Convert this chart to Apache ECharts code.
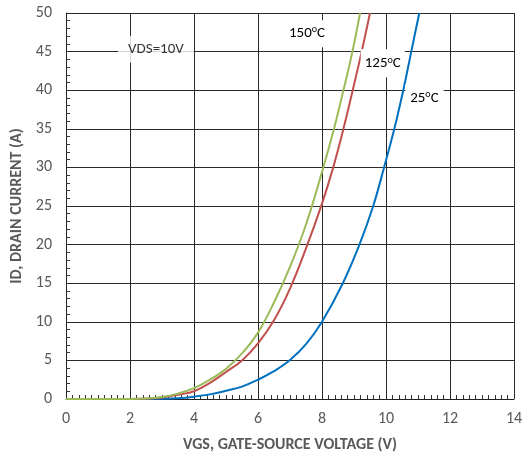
<!DOCTYPE html>
<html>
<head>
<meta charset="utf-8">
<script src="https://cdn.jsdelivr.net/npm/echarts@6/dist/echarts.min.js"></script>
<style>html,body{margin:0;padding:0;background:#fff}#c{width:528px;height:458px}</style>
</head>
<body>
<div id="c"></div>
<script>
// VGS (V) and ID (A)
const x150 = [0, 2, 2.5, 3, 3.5, 4, 4.5, 5, 5.5, 6, 6.5, 7, 7.5, 8, 8.375, 8.67, 8.95, 9.19];
const y150 = [0, 0, 0.05, 0.25, 0.7, 1.4, 2.5, 3.9, 5.9, 8.6, 12.5, 17.1, 22.6, 29.4, 35, 40, 45, 50];

const x125 = [0, 2, 2.6, 3, 3.5, 4, 4.5, 5, 5.5, 6, 6.5, 7, 7.5, 8, 8.35, 8.67, 8.96, 9.24, 9.5];
const y125 = [0, 0, 0.05, 0.2, 0.55, 1.0, 2.1, 3.5, 5.0, 7.2, 10.2, 14.3, 19.5, 25.3, 30, 35, 40, 45, 50];

const x25 = [0, 2.5, 3, 3.5, 4, 4.5, 5, 5.5, 6, 6.5, 7, 7.5, 8, 8.65, 9.17, 9.6, 9.94, 10.26, 10.54, 10.79, 11.04];
const y25 = [0, 0, 0.02, 0.1, 0.3, 0.6, 1.07, 1.6, 2.5, 3.6, 5.05, 7.1, 10, 15, 20, 25, 30, 35, 40, 45, 50];

const seriesNames = ['150', '125', '25'];
const seriesColors = ['#9BBB59', '#C0504D', '#0070C0'];
// label anchors in data coordinates
const labelTexts = ['150{s|o}C', '125{s|o}C', '25{s|o}C'];
const labelX = [7.53, 9.9, 11.2];
const labelY = [47.3, 43.5, 38.9];
const noteText = 'VDS=10V';
const noteX = 2.81, noteY = 45.3;

const xName = 'VGS, GATE-SOURCE VOLTAGE (V)';
const yName = 'ID, DRAIN CURRENT (A)';

const FONT = 'Carlito, Lato, "Open Sans", sans-serif';
const zip = (xs, ys) => xs.map((v, i) => [v, ys[i]]);
const rich = { s: { fontSize: 10, fontFamily: FONT, color: '#000', verticalAlign: 'top', padding: [0, 0, 7, 0] } };

const dataSets = [zip(x150, y150), zip(x125, y125), zip(x25, y25)];
const pads = [[4, 4, 6, 4], [6, 4, 5, 4], [5, 5, 6, 5]];
const zs = [5, 4, 3];

const series = dataSets.map((d, i) => ({
  name: seriesNames[i],
  type: 'line',
  data: d,
  smooth: 0.4,
  showSymbol: false,
  lineStyle: { color: seriesColors[i], width: 2 },
  z: zs[i],
  markPoint: {
    symbol: 'circle',
    symbolSize: 0,
    silent: true,
    data: [{ coord: [labelX[i], labelY[i]] }],
    label: {
      show: true, position: 'inside', formatter: labelTexts[i],
      fontFamily: FONT, fontSize: 15, color: '#000',
      backgroundColor: '#fff', padding: pads[i], rich: rich
    }
  }
}));

series.push({
  type: 'scatter',
  data: [[noteX, noteY]],
  symbolSize: 0,
  silent: true,
  z: 6,
  label: {
    show: true, position: 'inside', formatter: noteText,
    fontFamily: FONT, fontSize: 15, color: '#000',
    backgroundColor: '#fff', padding: [8, 10, 4, 10]
  }
});

const chart = echarts.init(document.getElementById('c'));
chart.setOption({
  animation: false,
  grid: { left: 66, right: 14, top: 13, bottom: 58 },
  xAxis: {
    type: 'value', min: 0, max: 14, interval: 2,
    name: xName, nameLocation: 'middle', nameGap: 38,
    nameTextStyle: { fontFamily: FONT, fontSize: 16, fontWeight: 'bold', color: '#595959' },
    axisLine: { show: true, lineStyle: { color: '#222', width: 1 } },
    axisTick: { show: false, inside: true, length: 4 },
    minorTick: { show: true, splitNumber: 10, length: 4, lineStyle: { color: '#333' } },
    splitLine: { show: true, lineStyle: { color: '#2a2a2a', width: 1 } },
    axisLabel: { fontFamily: FONT, fontSize: 16, color: '#595959', margin: 12 }
  },
  yAxis: {
    type: 'value', min: 0, max: 50, interval: 5,
    name: yName, nameLocation: 'middle', nameGap: 38,
    nameTextStyle: { fontFamily: FONT, fontSize: 16, fontWeight: 'bold', color: '#595959' },
    axisLine: { show: true, lineStyle: { color: '#222', width: 1 } },
    axisTick: { show: false, inside: true, length: 4 },
    minorTick: { show: true, splitNumber: 5, length: 4, lineStyle: { color: '#333' } },
    splitLine: { show: true, lineStyle: { color: '#2a2a2a', width: 1 } },
    axisLabel: { fontFamily: FONT, fontSize: 16, color: '#595959', margin: 14 }
  },
  series: series
});
</script>
</body>
</html>
